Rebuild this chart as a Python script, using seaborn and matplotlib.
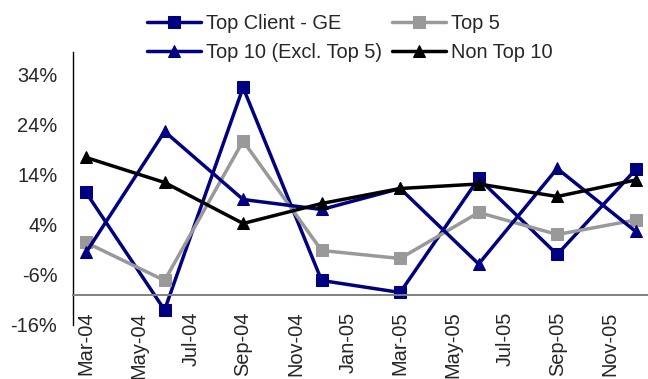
import matplotlib
matplotlib.use("Agg")
import matplotlib.pyplot as plt
import seaborn as sns
import pandas as pd

# Quarterly growth rates by client segment (%)
quarters = ["Mar-04", "Jun-04", "Sep-04", "Dec-04", "Mar-05", "Jun-05", "Sep-05", "Dec-05"]
quarter_month_index = [0, 3, 6, 9, 12, 15, 18, 21]  # months since Mar-04

top_client_ge = [10.5, -13.0, 31.5, -7.1, -9.5, 13.3, -1.9, 15.1]
top_5 = [0.5, -7.1, 20.8, -1.1, -2.7, 6.5, 2.1, 5.0]
top_10_excl_top_5 = [-1.5, 22.7, 9.1, 7.1, 11.3, -3.8, 15.3, 2.7]
non_top_10 = [17.5, 12.5, 4.3, 8.3, 11.3, 12.2, 9.7, 13.0]

series_names = ["Top Client - GE", "Top 5", "Top 10 (Excl. Top 5)", "Non Top 10"]
series_values = [top_client_ge, top_5, top_10_excl_top_5, non_top_10]
series_colors = ["#000080", "#999999", "#000080", "#000000"]
series_markers = ["s", "s", "^", "^"]

# Axis ticks
x_tick_labels = ["Mar-04", "May-04", "Jul-04", "Sep-04", "Nov-04", "Jan-05",
                 "Mar-05", "May-05", "Jul-05", "Sep-05", "Nov-05"]
x_tick_positions = [0, 2, 4, 6, 8, 10, 12, 14, 16, 18, 20]
y_ticks = [-16, -6, 4, 14, 24, 34]

df = pd.concat(
    [pd.DataFrame({"month": quarter_month_index, "growth": vals, "segment": name})
     for name, vals in zip(series_names, series_values)],
    ignore_index=True,
)

sns.set_style("white")
plt.rcParams["font.family"] = ["Liberation Sans", "DejaVu Sans"]

fig = plt.figure(figsize=(6.48, 3.79), dpi=100)
ax = fig.add_axes([0.112, 0.1425, 0.886, 0.7203])

handles = {}
for name, color, marker in zip(series_names, series_colors, series_markers):
    sub = df[df["segment"] == name]
    sns.lineplot(data=sub, x="month", y="growth", ax=ax, color=color,
                 marker=marker, markersize=8, markeredgecolor=color,
                 markerfacecolor=color, linewidth=2.5, label=name,
                 legend=False)
    handles[name] = ax.lines[-1]

ax.set_xlim(-0.515, 21.42)
ax.set_ylim(-16, 38.6)

for side in ["top", "right"]:
    ax.spines[side].set_visible(False)
ax.spines["left"].set_color("black")
ax.spines["left"].set_linewidth(1.0)
ax.spines["bottom"].set_position(("data", -10))
ax.spines["bottom"].set_color("#808080")
ax.spines["bottom"].set_linewidth(1.4)

ax.tick_params(axis="x", length=0, pad=12, labelsize=14.4, labelrotation=90)
ax.tick_params(axis="y", length=0, pad=11, labelsize=14.4)
ax.set_yticks(y_ticks)
ax.set_yticklabels([f"{v}%" for v in y_ticks])
ax.set_xticks(x_tick_positions)
ax.set_xticklabels(x_tick_labels)
for lbl in ax.get_xticklabels():
    lbl.set_rotation(90)
    lbl.set_ha("center")
    lbl.set_va("top")
    lbl.set_fontsize(14.4)
ax.set_xlabel("")
ax.set_ylabel("")

# Legend in two columns, filled row by row
order = ["Top Client - GE", "Top 10 (Excl. Top 5)", "Top 5", "Non Top 10"]
fig.legend([handles[n] for n in order], order, ncol=2, frameon=False,
           loc="upper left", bbox_to_anchor=(147 / 648, 1 - 14 / 379),
           fontsize=14.4, handlelength=2.7, handletextpad=0.25,
           columnspacing=0.5, labelspacing=0.5, borderpad=0, borderaxespad=0)

fig.savefig("out.png", dpi=100)
